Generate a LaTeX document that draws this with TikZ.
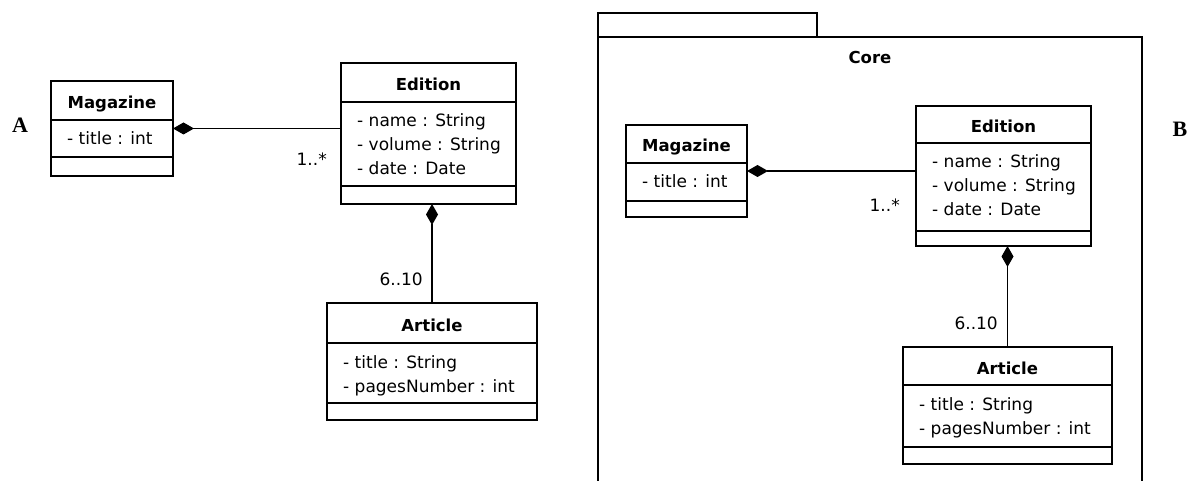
\documentclass[tikz,border=0pt]{standalone}
\usepackage{fontspec}
\setmainfont{DejaVu Sans}
\newfontfamily\letterfont{Liberation Serif}
\usepackage{tikz}
\usetikzlibrary{arrows.meta}

% name, left, top, width, height, header bottom, attributes bottom, title, attributes
\newcommand{\umlclass}[9]{%
  \node[classframe, minimum width=#4pt, minimum height=#5pt, anchor=north west] (#1) at (#2,#3) {};
  \draw[divider] ([yshift=-#6pt]#1.north west) -- ([yshift=-#6pt]#1.north east);
  \draw[divider] ([yshift=-#7pt]#1.north west) -- ([yshift=-#7pt]#1.north east);
  \node[classname] (#1-name) at ([yshift={-#6/2-8}]#1.north) {#8};
  \foreach \attr [count=\k] in {#9}
    \node[attr] (#1-attr\k) at ([xshift=16pt, yshift={-#6-1-24*\k}]#1.north west) {\attr};
}

\begin{document}
\begin{tikzpicture}
            [x=1pt, y=-1pt,
             classframe/.style={draw, line width=2.8pt, fill=white, inner sep=0pt, outer sep=0pt},
             divider/.style={line width=1.1pt},
             classname/.style={anchor=base, inner sep=0pt, font=\bfseries\fontsize{16.5}{19}\selectfont},
             attr/.style={anchor=base west, inner sep=0pt, font=\fontsize{17}{20}\selectfont},
             mult/.style={anchor=base east, inner sep=0pt, font=\fontsize{17}{20}\selectfont},
             compose/.style={line width=1.2pt, {Diamond[length=21pt, width=12pt]}-},
             pkgline/.style={line width=2.8pt},
             letter/.style={inner sep=0pt, font=\letterfont\bfseries\fontsize{22}{24}\selectfont}]
            \useasboundingbox (0,0) rectangle (1194,481);

            \node[letter] (labelA) at (20,125) {A};
            \umlclass{magA}{51}{81}{122}{95}{39}{76}{Magazine}{- title : int}
            \umlclass{edA}{341}{63}{175}{141}{39}{123}{Edition}{- name : String, - volume : String, - date : Date}
            \umlclass{artA}{327}{303}{210}{117}{40}{100}{Article}{- title : String, - pagesNumber : int}
            \draw[compose] (magA.east) -- (magA.east -| edA.west);
            \draw[compose] (artA.north |- edA.south) -- (artA.north);
            \node[mult] (multEdA) at (327,166) {1..*};
            \node[mult] (multArtA) at (423,285) {6..10};

            \draw[pkgline] (598,37) rectangle (817,13);
            \draw[pkgline] (598,490) -- (598,37) -- (1142,37) -- (1142,490);
            \node[classname] (core) at (870,64) {Core};
            \node[letter] (labelB) at (1180,129) {B};
            \umlclass{magB}{626}{125}{121}{92}{38}{76}{Magazine}{- title : int}
            \umlclass{edB}{916}{106}{175}{140}{37}{125}{Edition}{- name : String, - volume : String, - date : Date}
            \umlclass{artB}{903}{347}{209}{117}{38}{100}{Article}{- title : String, - pagesNumber : int}
            \draw[compose] (magB.east) -- (magB.east -| edB.west);
            \draw[compose] (artB.north |- edB.south) -- (artB.north);
            \node[mult] (multEdB) at (900,212) {1..*};
            \node[mult] (multArtB) at (998,329) {6..10};
        \end{tikzpicture}
\end{document}
